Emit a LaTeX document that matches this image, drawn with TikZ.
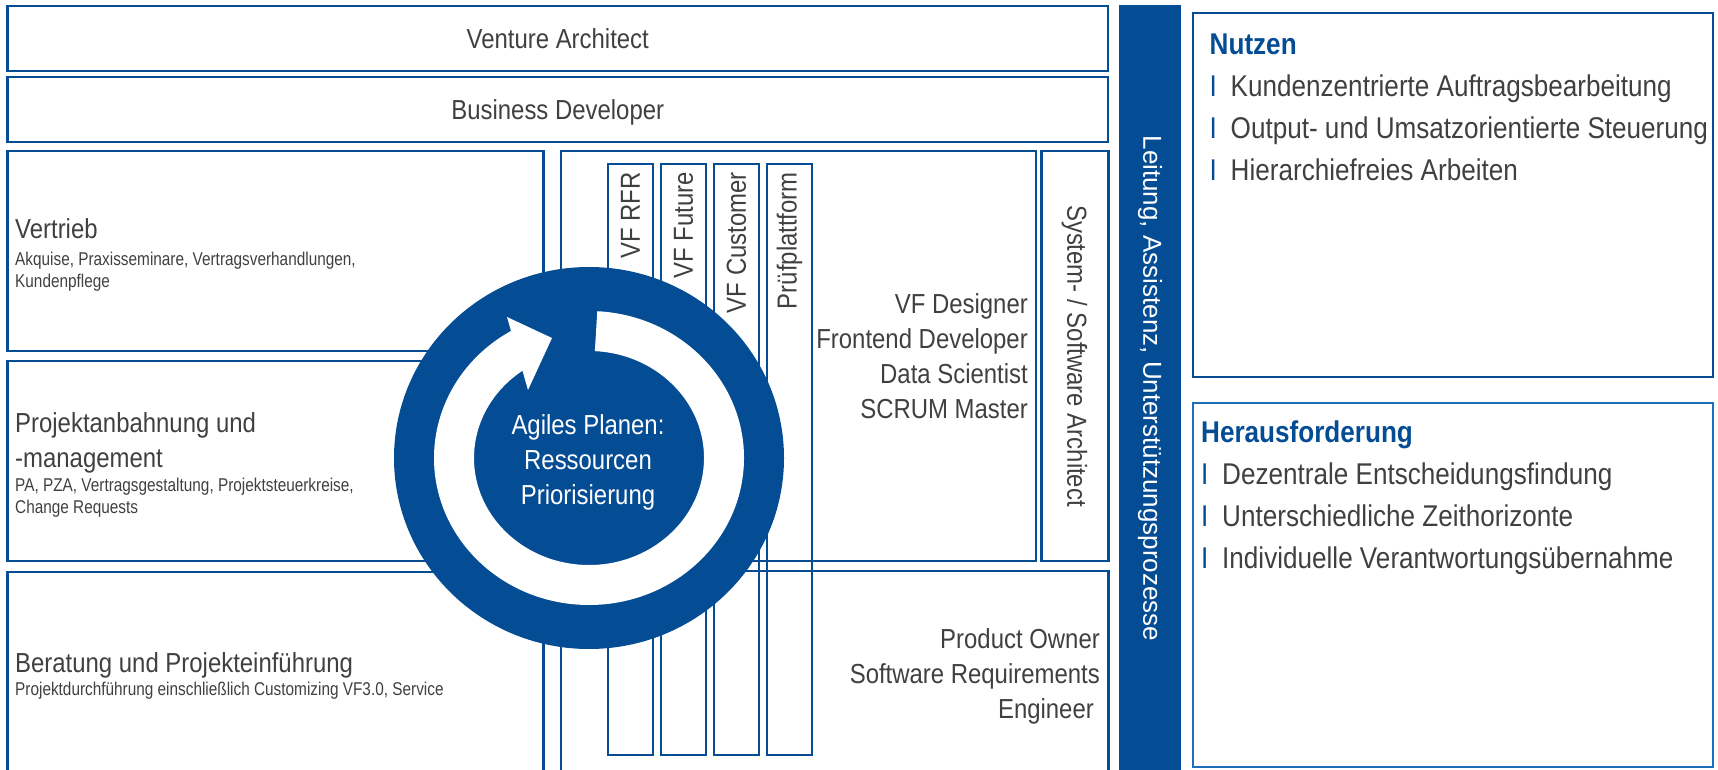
\documentclass[tikz,border=0pt]{standalone}
\usepackage{fontspec}
\setmainfont{Liberation Sans}[FakeStretch=0.87]
\newfontfamily\barfont{Liberation Sans}
\newfontfamily\subfont{Liberation Sans}[FakeStretch=0.83]
\definecolor{vfblue}{HTML}{044C94}
\definecolor{lightblue}{HTML}{1B6FBD}
\definecolor{txtgray}{HTML}{404040}
\newcommand{\bigtext}{\fontsize{27.5}{35}\selectfont}
\newcommand{\smalltext}{\subfont\fontsize{18.5}{21.5}\selectfont}
\newcommand{\sidetext}{\fontsize{30}{42}\selectfont}
\newcommand{\bul}{\makebox[21pt][l]{\textcolor{vfblue}{I}}}
\tikzstyle{unitbox} = [rectangle, draw=vfblue, line width=2.8pt, anchor=north west, inner sep=0pt, outer sep=0pt, text=txtgray, font=\bigtext]
\tikzstyle{vfcol} = [unitbox, minimum width=45pt, minimum height=591pt]
\tikzstyle{roletext} = [inner sep=0pt, text=txtgray, font=\bigtext]
\tikzstyle{subtext} = [inner sep=0pt, text=txtgray, font=\smalltext, anchor=base west]

\begin{document}
\begin{tikzpicture}[x=1pt, y=1pt]
 \useasboundingbox (0,0) rectangle (1718,769);
 \clip (0,0) rectangle (1718,769);

 % top rows
 \node (venture) [unitbox, minimum width=1100.5pt, minimum height=65pt, text height=21pt, text depth=0pt] at (7.5,763) {Venture Architect};
 \node (business) [unitbox, minimum width=1100.5pt, minimum height=65pt, text height=21pt, text depth=0pt] at (7.5,692) {Business Developer};

 % left column
 \node (vertrieb) [unitbox, minimum width=536pt, minimum height=200pt] at (7.5,618) {};
 \node (projekt) [unitbox, minimum width=536pt, minimum height=200pt] at (7.5,408) {};
 \node (beratung) [unitbox, minimum width=536pt, minimum height=240pt] at (7.5,197) {};

 \node (vertriebtitle) [roletext, anchor=base west] at (15,530) {Vertrieb};
 \node (vertriebsub) [subtext] at (15,503) {\begin{tabular}[t]{@{}l@{}}
  Akquise, Praxisseminare, Vertragsverhandlungen,\\
  Kundenpflege
 \end{tabular}};
 \node (projekttitle) [roletext, anchor=base west] at (15,336) {\begin{tabular}[t]{@{}l@{}}
  Projektanbahnung und\\
  -management
 \end{tabular}};
 \node (projektsub) [subtext] at (15,277) {\begin{tabular}[t]{@{}l@{}}
  PA, PZA, Vertragsgestaltung, Projektsteuerkreise,\\
  Change Requests
 \end{tabular}};
 \node (beratungtitle) [roletext, anchor=base west] at (15,97) {Beratung und Projekteinführung};
 \node (beratungsub) [subtext] at (15,74) {Projektdurchführung einschließlich Customizing VF3.0, Service};

 % product area
 \node (vfbox) [unitbox, minimum width=475pt, minimum height=410pt] at (561,618) {};
 \node (sysarch) [unitbox, minimum width=67pt, minimum height=410pt] at (1041.5,618) {};
 \node (owner) [unitbox, minimum width=547.5pt, minimum height=240pt] at (561,198) {};

 \node (colrfr) [vfcol] at (608,605) {};
 \node (colfuture) [vfcol] at (661,605) {};
 \node (colcustomer) [vfcol] at (714,605) {};
 \node (colpruef) [vfcol] at (767,605) {};
 \node (rfrtext) [roletext, rotate=90, anchor=east] at (630.5,597) {VF RFR};
 \node (futuretext) [roletext, rotate=90, anchor=east] at (683.5,597) {VF Future};
 \node (customertext) [roletext, rotate=90, anchor=east] at (736.5,597) {VF Customer};
 \node (prueftext) [roletext, rotate=90, anchor=east] at (789.5,597) {Prüfplattform};

 \node (vfroles) [roletext, anchor=base east] at (1028,455) {\begin{tabular}[t]{@{}r@{}}
  VF Designer\\
  Frontend Developer\\
  Data Scientist\\
  SCRUM Master
 \end{tabular}};
 \node (ownerroles) [roletext, anchor=base east] at (1100,121) {\begin{tabular}[t]{@{}r@{}}
  Product Owner\\
  Software Requirements\\
  Engineer\hspace*{6pt}
 \end{tabular}};
 \node (sysarchtext) [roletext, rotate=-90] at (1074.5,413) {System- / Software Architect};

 % agile cycle
 \fill[vfblue] (589,311) ellipse [x radius=195, y radius=191];
 \draw[white, line width=40pt] (589,311) ++(87:135 and 127) arc[start angle=87, end angle=-242, x radius=135, y radius=127];
 \coordinate (tip) at (552,431);
 \coordinate (barbout) at (507,452);
 \coordinate (barbin) at (528,379);
 \fill[white] (tip) -- (barbout) -- (barbin) -- cycle;
 \node (agile) [roletext, text=white, anchor=base] at (588,334) {\begin{tabular}[t]{@{}c@{}}
  Agiles Planen:\\
  Ressourcen\\
  Priorisierung
 \end{tabular}};

 % support bar
 \node (leitung) [rectangle, fill=vfblue, anchor=north west, inner sep=0pt, minimum width=62pt, minimum height=800pt] at (1119,764) {};
 \node (leitungtext) [rotate=-90, inner sep=0pt, text=white, font=\barfont\fontsize{26}{30}\selectfont] at (1150,380.5) {Leitung, Assistenz, Unterstützungsprozesse};

 % right boxes
 \node (nutzen) [unitbox, minimum width=520pt, minimum height=364pt] at (1193,756) {};
 \node (heraus) [unitbox, draw=lightblue, minimum width=520pt, minimum height=364pt] at (1193,366) {};
 \node (nutzentext) [roletext, font=\sidetext, anchor=base west] at (1209.5,714) {\begin{tabular}[t]{@{}l@{}}
  \textbf{\textcolor{vfblue}{Nutzen}}\\
  \bul Kundenzentrierte Auftragsbearbeitung\\
  \bul Output- und Umsatzorientierte Steuerung\\
  \bul Hierarchiefreies Arbeiten
 \end{tabular}};
 \node (herausText) [roletext, font=\sidetext, anchor=base west] at (1201,326) {\begin{tabular}[t]{@{}l@{}}
  \textbf{\textcolor{vfblue}{Herausforderung}}\\
  \bul Dezentrale Entscheidungsfindung\\
  \bul Unterschiedliche Zeithorizonte\\
  \bul Individuelle Verantwortungsübernahme
 \end{tabular}};
\end{tikzpicture}
\end{document}
